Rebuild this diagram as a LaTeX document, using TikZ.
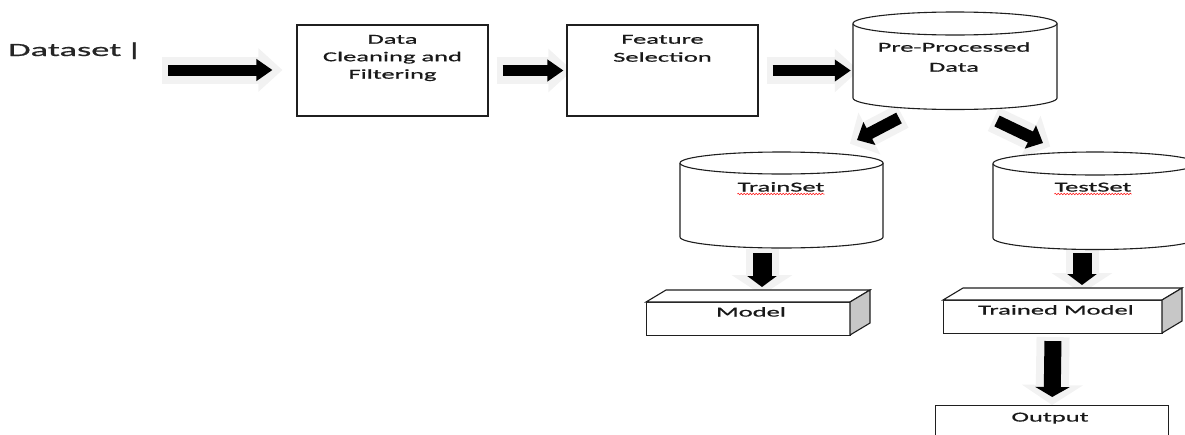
\documentclass[tikz,border=0pt]{standalone}
\usepackage{fontspec}
\setmainfont{Carlito}[FakeStretch=1.95,FakeBold=0.8]
\usetikzlibrary{arrows.meta,decorations.pathmorphing,backgrounds}
\newcommand\lblfont{\fontsize{13.6pt}{17.5pt}\selectfont}
\newcommand\dsfont{\fontsize{18.7pt}{22pt}\selectfont}
% cylinder: name, cx, ytop, ybottom, rx, ry
\newcommand\cyl[6]{%
  \node[inner sep=0pt, minimum width={2*#5}, minimum height={#4-#3+2*#6}] (#1) at (#2,{(#3+#4)/2}) {};
  \path[outl, fill=white] ({#2-#5},#3) -- ({#2-#5},#4)
     .. controls ({#2-#5},{#4+0.5523*#6}) and ({#2-0.5523*#5},{#4+#6}) .. (#2,{#4+#6})
     .. controls ({#2+0.5523*#5},{#4+#6}) and ({#2+#5},{#4+0.5523*#6}) .. ({#2+#5},#4)
     -- ({#2+#5},#3);
  \path[outl, fill=white] (#2,#3) ellipse [x radius=#5, y radius=#6];
}
% cuboid: name, x1, y1, x2, y2 (front face)
\newcommand\cuboid[5]{%
  \node[outl, fill=white, inner sep=0pt, anchor=north west, minimum width={#4-#2}, minimum height={#5-#3}] (#1) at (#2,#3) {};
  \path[outl, fill=white] (#2,#3) -- ({#2+20},{#3-12}) -- ({#4+20},{#3-12}) -- (#4,#3) -- cycle;
  \path[outl, fill=black!22] (#4,#3) -- ({#4+20},{#3-12}) -- ({#4+20},{#5-12}) -- (#4,#5) -- cycle;
}
\begin{document}
\begin{tikzpicture}[x=1pt,y=-1pt,
  outl/.style={draw=black!88, line width=1.1pt},
  boxnode/.style={outl, fill=white, inner sep=0pt, minimum width=191pt, minimum height=91pt},
  lbl/.style={inner sep=0pt, font=\lblfont, text=black!90},
  wavy/.style={draw=red, line width=0.5pt, decorate, decoration={snake, amplitude=0.8pt, segment length=3pt}},
  harrow/.style={draw=black, line width=11pt, -{Triangle[length=16pt,width=21pt]}},
  hglow/.style={draw=black!5, line width=27pt, -{Triangle[length=24pt,width=42pt]}},
  darrow/.style={draw=black, line width=12pt, -{Triangle[length=14pt,width=25pt]}},
  dglow/.style={draw=black!5, line width=26pt, -{Triangle[length=22pt,width=46pt]}},
  varrow/.style={draw=black, line width=19pt, -{Triangle[length=11pt,width=29pt]}},
  vglow/.style={draw=black!5, line width=33pt, -{Triangle[length=20pt,width=60pt]}},
  larrow/.style={draw=black, line width=17pt, -{Triangle[length=10pt,width=34pt]}},
]
\useasboundingbox (0,0) rectangle (1185,434);

% ---- shapes ----
\node[inner sep=0pt, anchor=base west, font=\dsfont, text=black!85] (dataset) at (8,56) {Dataset\hspace{4.5pt}|};

\node[boxnode] (clean) at (392.5,70.5) {};
\node[lbl, anchor=north, align=center] (cleantxt) at (392.5,33.5) {\rule{0pt}{10pt}Data\\Cleaning and\\Filtering};

\node[boxnode] (feat) at (662.5,70.5) {};
\node[lbl, anchor=north, align=center] (feattxt) at (662.5,33.5) {\rule{0pt}{10pt}Feature\\[0.5pt]Selection};

\cyl{pre}{955}{23.5}{98}{102}{11.5}
\node[lbl, anchor=north, align=center] (pretxt) at (954,41.5) {\rule{0pt}{10pt}Pre-Processed\\[2.5pt]Data};

\cyl{train}{781.5}{163}{237}{101.5}{11}
\node[lbl, anchor=base] (traintxt) at (781,191.5) {TrainSet};
\draw[wavy] ([yshift=-2.5pt]traintxt.base west) -- ([yshift=-2.5pt]traintxt.base east);

\cyl{test}{1095}{163.5}{238}{102}{11.5}
\node[lbl, anchor=base] (testtxt) at (1093,191.5) {TestSet};
\draw[wavy] ([yshift=-2.5pt]testtxt.base west) -- ([yshift=-2.5pt]testtxt.base east);

\cuboid{model}{646}{302}{850}{335}
\node[lbl, anchor=base] (modeltxt) at (751,316.5) {Model};

\cuboid{trained}{943}{300}{1162}{333}
\node[lbl, anchor=base] (trainedtxt) at (1056,314.5) {Trained Model};

\node[outl, fill=white, inner sep=0pt, anchor=north west, minimum width=233pt, minimum height=50pt] (output) at (935,405) {};
\node[lbl, anchor=base] (outtxt) at (1050,421.5) {Output};

% ---- arrow end points ----
\coordinate (a1s) at (168,70);
\coordinate (d1s) at (899,118);
\coordinate (d1e) at (857,140);
\coordinate (d2s) at (997,121);
\coordinate (d2e) at (1043,143);
\coordinate (v1s) at (762,253);
\coordinate (v1e) at (762,287);
\coordinate (v2s) at (1082,253);
\coordinate (v2e) at (1082,285);

% ---- glows ----
\begin{pgfonlayer}{background}
\draw[hglow, shorten <=-6pt, shorten >=14pt] (a1s) -- (a1s -| clean.west);
\draw[hglow, shorten <=8pt, shorten >=-6pt] (clean.east) -- (feat.west);
\draw[hglow, shorten <=8pt, shorten >=-6pt] (feat.east) -- (feat.east -| pre.west);
\draw[dglow, shorten <=-4pt, shorten >=-8pt] (d1s) -- (d1e);
\draw[dglow, shorten <=-4pt, shorten >=-8pt] (d2s) -- (d2e);
\draw[vglow, shorten <=-4pt, shorten >=-8pt] (v1s) -- (v1e);
\draw[vglow, shorten <=-4pt, shorten >=-8pt] (v2s) -- (v2e);
\draw[vglow, shorten <=3pt, shorten >=0pt] (trained.south) -- (output.north);
\end{pgfonlayer}

% ---- arrows ----
\draw[harrow, shorten >=24pt] (a1s) -- (a1s -| clean.west);
\draw[harrow, shorten <=14pt, shorten >=3pt] (clean.east) -- (feat.west);
\draw[harrow, shorten <=14pt, shorten >=2pt] (feat.east) -- (feat.east -| pre.west);
\draw[darrow] (d1s) -- (d1e);
\draw[darrow] (d2s) -- (d2e);
\draw[varrow] (v1s) -- (v1e);
\draw[varrow] (v2s) -- (v2e);
\draw[larrow, shorten <=7pt, shorten >=8pt] (trained.south) -- (output.north);
\end{tikzpicture}
\end{document}
